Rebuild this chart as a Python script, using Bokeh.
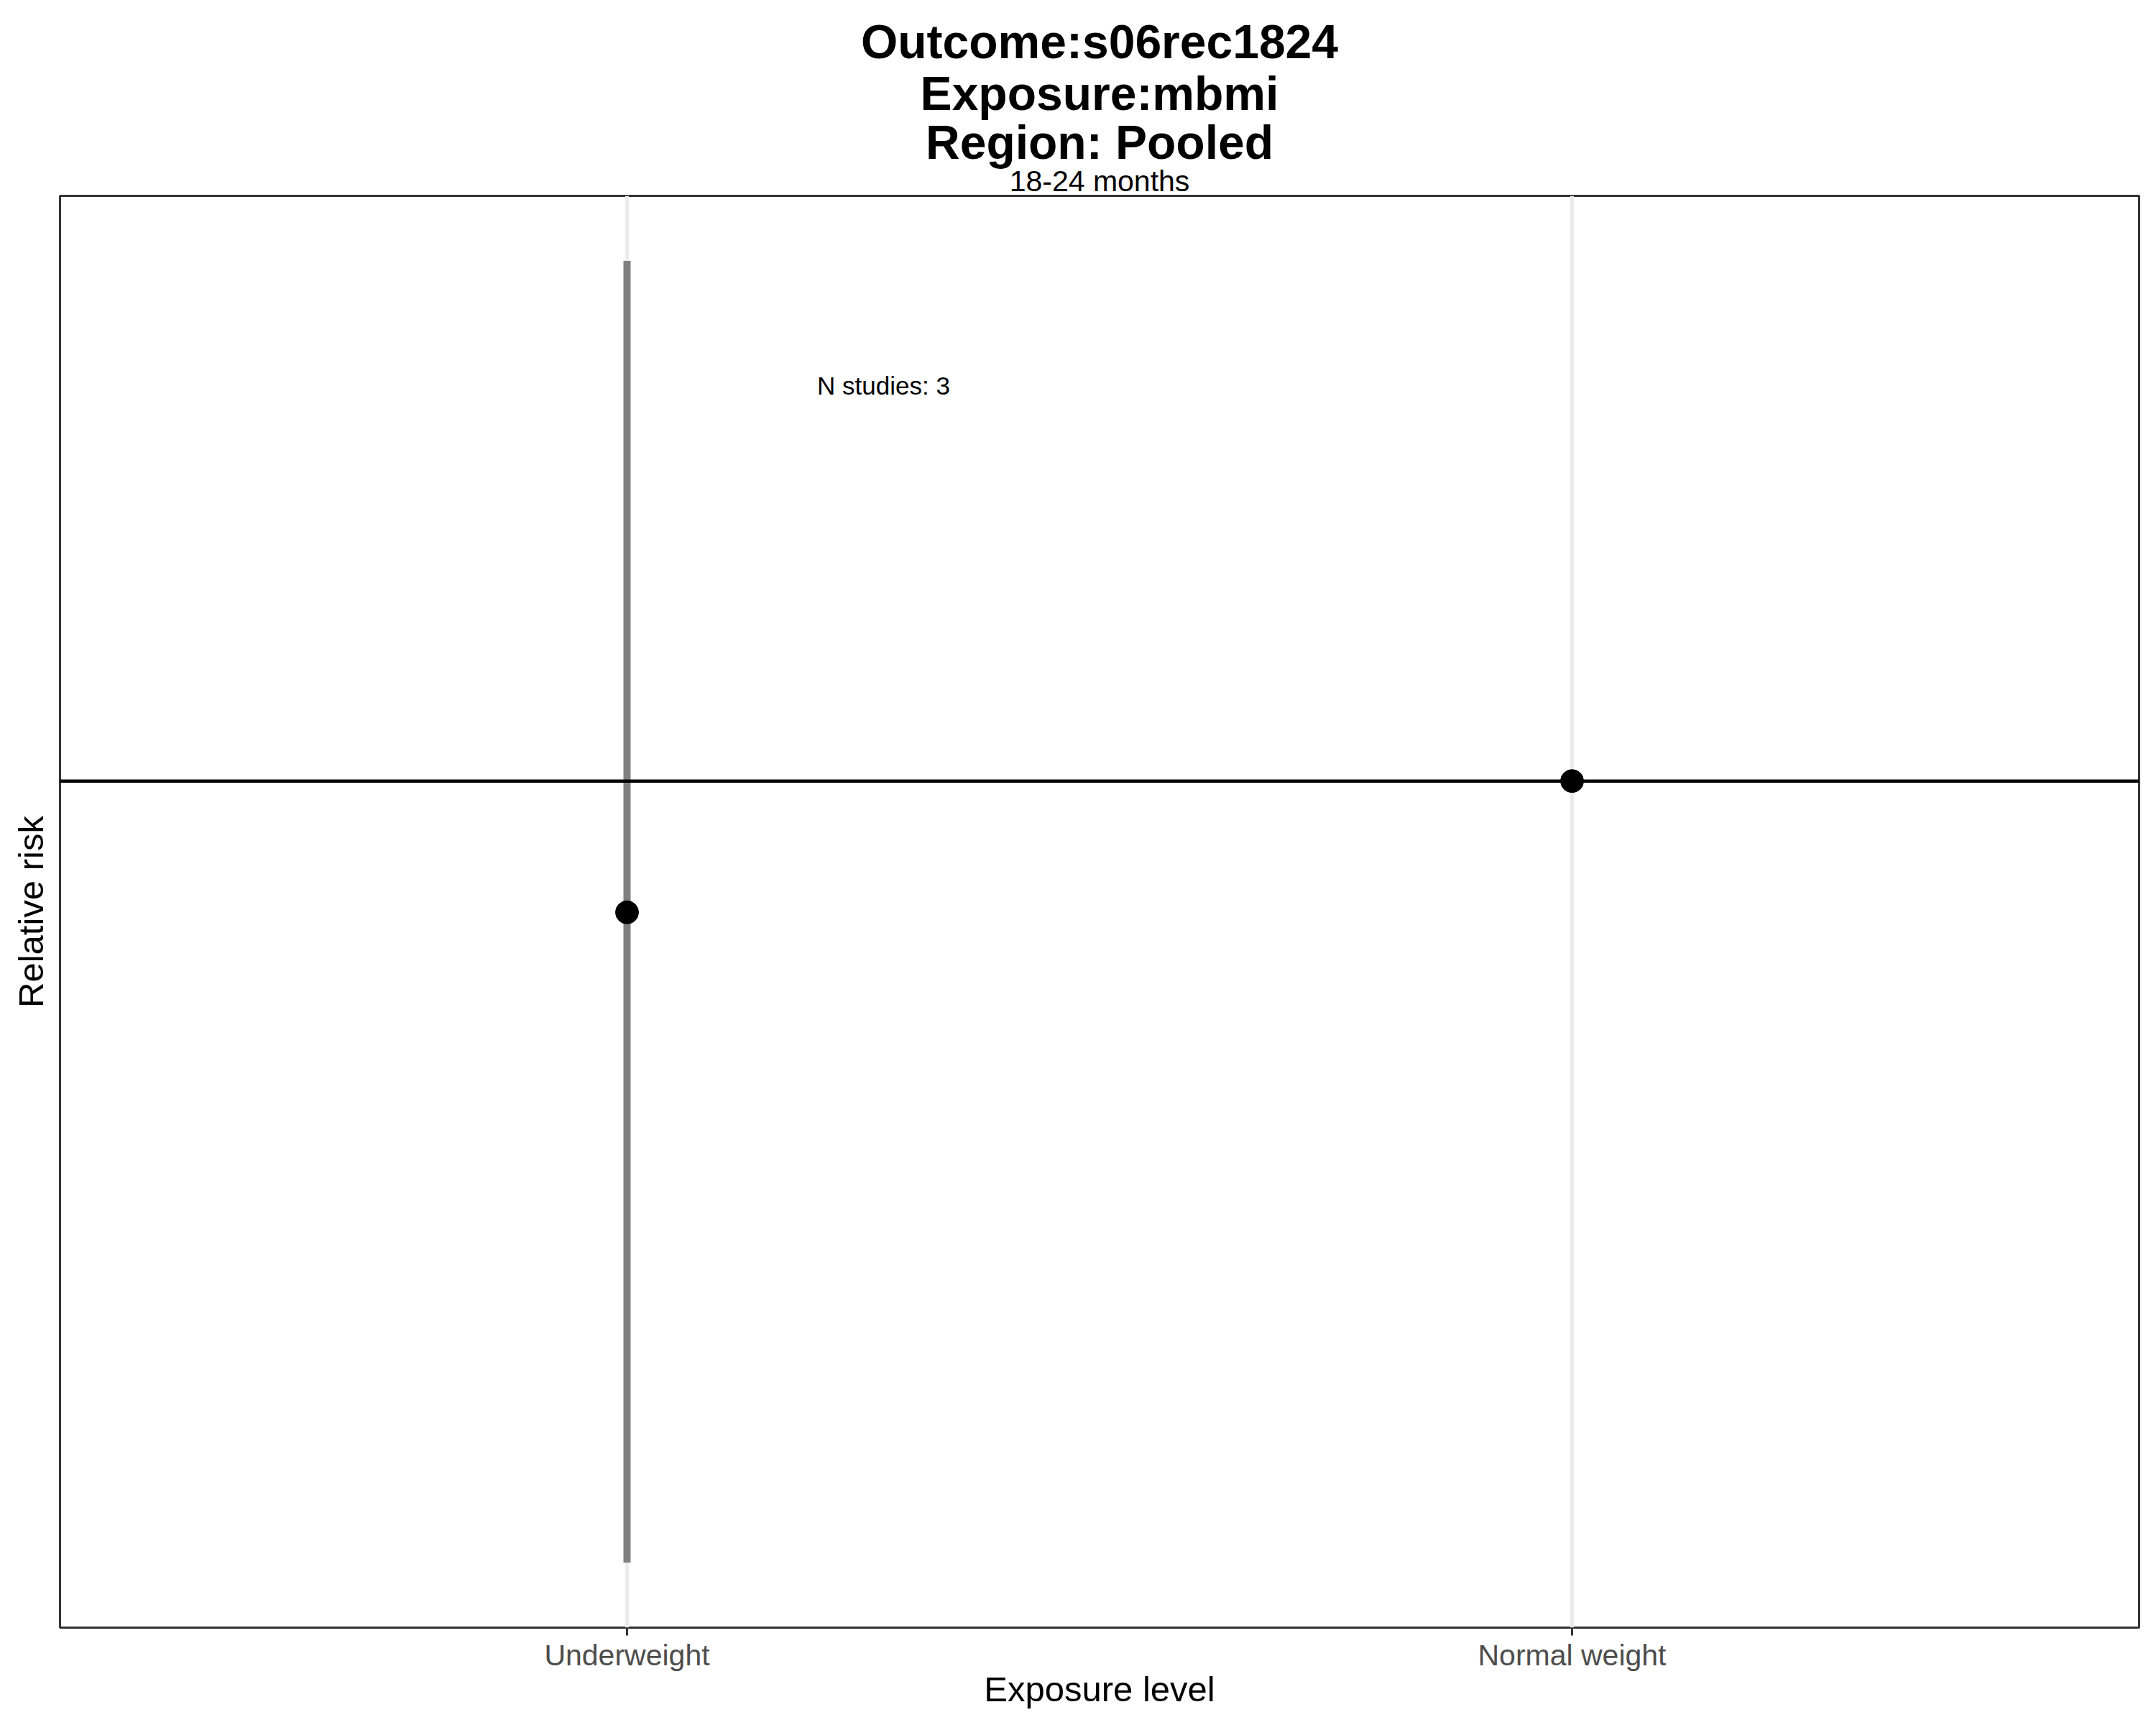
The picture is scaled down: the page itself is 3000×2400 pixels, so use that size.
import math
from bokeh.plotting import figure
from bokeh.models import Range1d, FixedTicker, Title, ColumnDataSource, Span, Label
from bokeh.embed import file_html
from bokeh.resources import INLINE

# ---- data ----
categories = ["Underweight", "Normal weight"]
rr = [0.80, 1.00]
ci_lower = [0.265, 1.00]
ci_upper = [2.42, 1.00]
n_studies = 3

title_lines = ["Outcome:s06rec1824", "Exposure:mbmi", "Region: Pooled"]
subtitle = "18-24 months"
x_title = "Exposure level"
y_title = "Relative risk"

FONT = "Liberation Sans"

xs = [i + 1 for i in range(len(categories))]
src = ColumnDataSource(dict(x=xs, rr=rr, lo=ci_lower, hi=ci_upper, cat=categories))

llo, lhi = math.log10(min(ci_lower)), math.log10(max(ci_upper))
pad = 0.05 * (lhi - llo)

p = figure(width=3000, height=2400, output_backend="svg", toolbar_location=None,
           y_axis_type="log",
           x_range=Range1d(0.4, len(categories) + 0.6),
           y_range=Range1d(10 ** (llo - pad), 10 ** (lhi + pad)),
           min_border_left=83, min_border_right=24, min_border_top=272, min_border_bottom=136)
p.background_fill_color = "white"
p.border_fill_color = "white"
p.outline_line_color = "#333333"
p.outline_line_width = 3

# titles: added from the frame outward
p.add_layout(Title(text=subtitle, align="center", text_font=FONT, text_font_size="41px",
                   text_font_style="normal", text_color="black", standoff=-5), "above")
title_standoffs = [-5, -4, -11]
for line, so in reversed(list(zip(title_lines, title_standoffs))):
    p.add_layout(Title(text=line, align="center", text_font=FONT,
                       text_font_size="66px", text_font_style="bold", text_color="black",
                       standoff=so), "above")

# x axis
p.xaxis.ticker = FixedTicker(ticks=xs)
p.xaxis.major_label_overrides = {x: c for x, c in zip(xs, categories)}
p.xaxis.major_label_text_font = FONT
p.xaxis.major_label_text_font_size = "41px"
p.xaxis.major_label_text_color = "#4D4D4D"
p.xaxis.major_label_standoff = 4
p.xaxis.major_tick_out = 11
p.xaxis.major_tick_in = 0
p.xaxis.major_tick_line_width = 3
p.xaxis.major_tick_line_color = "#333333"
p.xaxis.minor_tick_line_color = None
p.xaxis.axis_line_color = None
p.xaxis.axis_label = x_title
p.xaxis.axis_label_text_font = FONT
p.xaxis.axis_label_text_font_size = "49px"
p.xaxis.axis_label_text_font_style = "normal"
p.xaxis.axis_label_text_color = "black"
p.xaxis.axis_label_standoff = -6

# y axis: no ticks or labels
p.yaxis.ticker = FixedTicker(ticks=[])
p.yaxis.minor_tick_line_color = None
p.yaxis.major_tick_line_color = None
p.yaxis.axis_line_color = None
p.yaxis.major_label_text_font_size = "0px"
p.yaxis.axis_label = y_title
p.yaxis.axis_label_text_font = FONT
p.yaxis.axis_label_text_font_size = "49px"
p.yaxis.axis_label_text_font_style = "normal"
p.yaxis.axis_label_text_color = "black"
p.yaxis.axis_label_standoff = 14

# grids
p.xgrid.grid_line_color = "#EBEBEB"
p.xgrid.grid_line_width = 5
p.ygrid.grid_line_color = None

# reference line at RR = 1
p.add_layout(Span(location=1.0, dimension="width", line_color="black", line_width=4.5))

# CI ranges and points
p.segment(x0="x", y0="lo", x1="x", y1="hi", source=src, line_color="#808080", line_width=10)
p.scatter(x="x", y="rr", source=src, size=32, fill_color="black", line_color="black")

p.add_layout(Label(x=1.2715, y=1.957, text=f"N studies: {n_studies}", text_align="center",
                   text_baseline="middle", text_font=FONT, text_font_size="35px",
                   text_color="black"))

open("out.html", "w").write(file_html(p, INLINE))
